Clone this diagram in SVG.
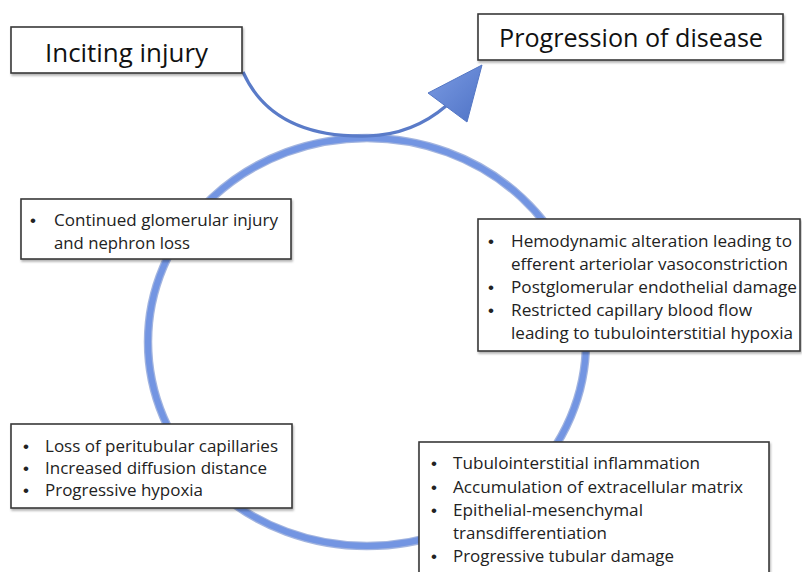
<svg xmlns="http://www.w3.org/2000/svg" width="802" height="572" viewBox="0 0 802 572">
<defs>
<linearGradient id="ag" x1="0" y1="0" x2="1" y2="1">
<stop offset="0" stop-color="#7b9be3"/>
<stop offset="1" stop-color="#4f73c6"/>
</linearGradient>
<filter id="sh" x="-10%" y="-10%" width="120%" height="130%">
<feDropShadow dx="1" dy="2" stdDeviation="1.2" flood-color="#000" flood-opacity="0.3"/>
</filter>
<style>
.box{fill:#fff;stroke:#3a3a3a;stroke-width:1.6;filter:url(#sh)}
.t{font-family:"Open Sans","Noto Sans","Liberation Sans",sans-serif;fill:#222;font-size:17px}
.h{font-family:"Open Sans","Noto Sans","Liberation Sans",sans-serif;fill:#111;font-size:25px}
.b{font-family:"Liberation Sans",sans-serif;fill:#222;font-size:17px}
</style>
</defs>
<rect width="802" height="572" fill="#fff"/>
<g id="connectors">
<ellipse cx="367" cy="342" rx="219" ry="204" fill="none" stroke="#5577c4" stroke-width="8.5" opacity="0.55"/>
<ellipse cx="367" cy="342" rx="219" ry="204" fill="none" stroke="#7395e2" stroke-width="6"/>
<path d="M243,72 C268,128 325,137 368,136 C400,135 425,124 446,106" fill="none" stroke="#5a7bc8" stroke-width="3.2"/>
<polygon points="482,65 428,93 467,122" fill="url(#ag)" stroke="#5577c4" stroke-width="1"/>
</g>
<g id="inciting">
<rect class="box" x="11" y="27" width="231" height="46"/>
<text class="h" x="45" y="62" textLength="163" lengthAdjust="spacingAndGlyphs">Inciting injury</text>
</g>
<g id="progression">
<rect class="box" x="478" y="14" width="305" height="46"/>
<text class="h" x="499" y="47" textLength="264" lengthAdjust="spacingAndGlyphs">Progression of disease</text>
</g>
<g id="glomerular">
<rect class="box" x="21" y="199" width="270" height="60"/>
<text class="b" x="30" y="226">•</text>
<text class="t" x="54" y="226" textLength="224" lengthAdjust="spacingAndGlyphs">Continued glomerular injury</text>
<text class="t" x="54" y="249" textLength="136" lengthAdjust="spacingAndGlyphs">and nephron loss</text>
</g>
<g id="hemodynamic">
<rect class="box" x="478" y="219" width="322" height="132"/>
<text class="b" x="488" y="247">•</text>
<text class="t" x="511" y="247" textLength="281" lengthAdjust="spacingAndGlyphs">Hemodynamic alteration leading to</text>
<text class="t" x="511" y="270" textLength="277" lengthAdjust="spacingAndGlyphs">efferent arteriolar vasoconstriction</text>
<text class="b" x="488" y="293">•</text>
<text class="t" x="511" y="293" textLength="286" lengthAdjust="spacingAndGlyphs">Postglomerular endothelial damage</text>
<text class="b" x="488" y="316">•</text>
<text class="t" x="511" y="316" textLength="241" lengthAdjust="spacingAndGlyphs">Restricted capillary blood flow</text>
<text class="t" x="511" y="339" textLength="282" lengthAdjust="spacingAndGlyphs">leading to tubulointerstitial hypoxia</text>
</g>
<g id="peritubular">
<rect class="box" x="11" y="424" width="281" height="84"/>
<text class="b" x="23" y="452">•</text>
<text class="t" x="45" y="452" textLength="233" lengthAdjust="spacingAndGlyphs">Loss of peritubular capillaries</text>
<text class="b" x="23" y="474">•</text>
<text class="t" x="45" y="474" textLength="222" lengthAdjust="spacingAndGlyphs">Increased diffusion distance</text>
<text class="b" x="23" y="496">•</text>
<text class="t" x="45" y="496" textLength="158" lengthAdjust="spacingAndGlyphs">Progressive hypoxia</text>
</g>
<g id="tubular">
<rect class="box" x="419" y="442" width="350" height="140"/>
<text class="b" x="431" y="469">•</text>
<text class="t" x="453" y="469" textLength="247" lengthAdjust="spacingAndGlyphs">Tubulointerstitial inflammation</text>
<text class="b" x="431" y="493">•</text>
<text class="t" x="453" y="493" textLength="290" lengthAdjust="spacingAndGlyphs">Accumulation of extracellular matrix</text>
<text class="b" x="431" y="516">•</text>
<text class="t" x="453" y="516" textLength="190" lengthAdjust="spacingAndGlyphs">Epithelial-mesenchymal</text>
<text class="t" x="453" y="539" textLength="154" lengthAdjust="spacingAndGlyphs">transdifferentiation</text>
<text class="b" x="431" y="562">•</text>
<text class="t" x="453" y="562" textLength="221" lengthAdjust="spacingAndGlyphs">Progressive tubular damage</text>
</g>
</svg>
